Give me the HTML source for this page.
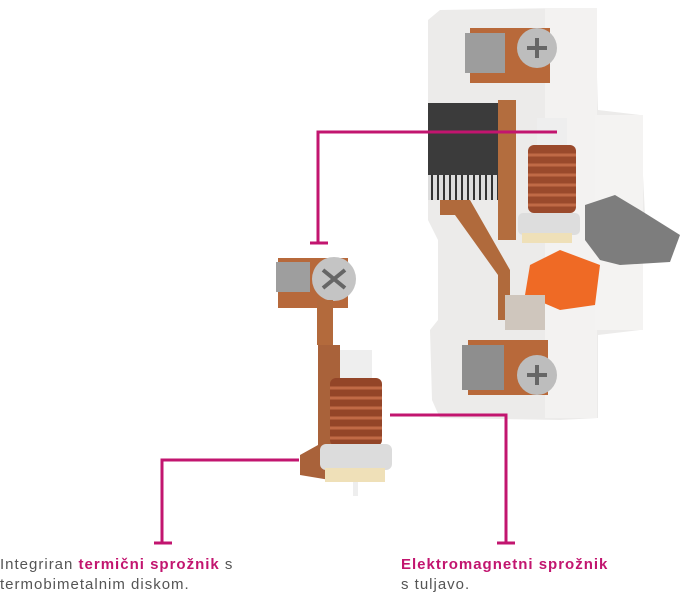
<!DOCTYPE html>
<html><head><meta charset="utf-8"><style>
html,body{margin:0;padding:0;background:#fff;}
body{width:689px;height:595px;position:relative;overflow:hidden;font-family:"Liberation Sans",sans-serif;}
.t{position:absolute;font-size:15px;line-height:20px;color:#555;letter-spacing:1px;}
.t b{color:#c2156f;}
</style></head><body>
<svg width="689" height="595" style="position:absolute;left:0;top:0">
<path d="M428 20 L440 10 L560 8 L595 10 L598 110 L640 115 L645 215 L640 330 L598 335 L598 418 L560 420 L440 418 L432 400 L430 330 L438 320 L438 240 L428 220 Z" fill="#ecebea"/>
<rect x="545" y="8" width="52" height="410" fill="#f3f2f1"/>
<rect x="595" y="115" width="48" height="215" fill="#f4f3f2"/>
<rect x="470" y="28" width="80" height="55" fill="#b8693a"/>
<rect x="465" y="33" width="40" height="40" fill="#9d9d9d"/>
<circle cx="537" cy="48" r="20" fill="#bdbdbd"/><path d="M527 48h20M537 38v20" stroke="#666" stroke-width="4"/>
<rect x="428" y="103" width="82" height="97" fill="#3b3b3b"/>
<rect x="428" y="175" width="82" height="25" fill="#ddd"/>
<path d="M432 175v25M438 175v25M444 175v25M450 175v25M456 175v25M462 175v25M468 175v25M474 175v25M480 175v25M486 175v25M492 175v25M498 175v25" stroke="#333" stroke-width="2"/>
<path d="M440 200 L470 200 L510 270 L510 320 L498 320 L498 275 L455 215 L440 215 Z" fill="#b06a3c"/>
<rect x="498" y="100" width="18" height="140" fill="#b36d3e"/>
<rect x="537" y="118" width="30" height="30" fill="#eee"/>
<rect x="528" y="145" width="48" height="68" rx="6" fill="#9a4a2c"/>
<path d="M528 155h48M528 165h48M528 175h48M528 185h48M528 195h48M528 205h48" stroke="#c06a46" stroke-width="3"/>
<rect x="518" y="213" width="62" height="22" rx="5" fill="#ddd"/>
<rect x="522" y="233" width="50" height="10" fill="#efe0b8"/>
<path d="M585 205 L615 195 L640 210 L680 235 L670 262 L620 265 L600 260 L585 240 Z" fill="#7d7d7d"/>
<path d="M530 265 L560 250 L600 265 L595 305 L560 310 L525 295 Z" fill="#ef6a25"/>
<rect x="468" y="340" width="80" height="55" fill="#b8693a"/>
<rect x="462" y="345" width="42" height="45" fill="#8e8e8e"/>
<circle cx="537" cy="375" r="20" fill="#bdbdbd"/><path d="M527 375h20M537 365v20" stroke="#666" stroke-width="4"/>
<rect x="505" y="295" width="40" height="35" fill="#cfc6bd"/>
<rect x="278" y="258" width="70" height="50" fill="#b7693b"/>
<rect x="276" y="262" width="34" height="30" fill="#9e9e9e"/>
<circle cx="334" cy="279" r="22" fill="#c4c4c4"/><path d="M323 270l22 18M345 270l-22 18" stroke="#666" stroke-width="4"/>
<rect x="317" y="300" width="16" height="45" fill="#b36a3c"/>
<path d="M318 345 L340 345 L340 440 L330 480 L300 475 L300 455 L318 445 Z" fill="#a9623a"/>
<rect x="340" y="350" width="32" height="30" fill="#eee"/>
<rect x="330" y="378" width="52" height="68" rx="6" fill="#934528"/>
<path d="M330 388h52M330 398h52M330 408h52M330 418h52M330 428h52M330 438h52" stroke="#c06a46" stroke-width="3"/>
<rect x="320" y="444" width="72" height="26" rx="6" fill="#dcdcdc"/>
<rect x="325" y="468" width="60" height="14" fill="#efe0b8"/>
<rect x="353" y="482" width="5" height="14" fill="#eee"/>
<g stroke="#c2156f" stroke-width="3" fill="none">
<path d="M557 132H318V243"/><path d="M310 243h18"/>
<path d="M299 460H162V543"/><path d="M154 543h18"/>
<path d="M390 415H506V543"/><path d="M497 543h18"/>
</g>
</svg>
<div class="t" style="left:0;top:555px">Integriran <b>termični sprožnik</b> s<br>termobimetalnim diskom.</div>
<div class="t" style="left:401px;top:555px"><b>Elektromagnetni sprožnik</b><br>s tuljavo.</div>
</body></html>
